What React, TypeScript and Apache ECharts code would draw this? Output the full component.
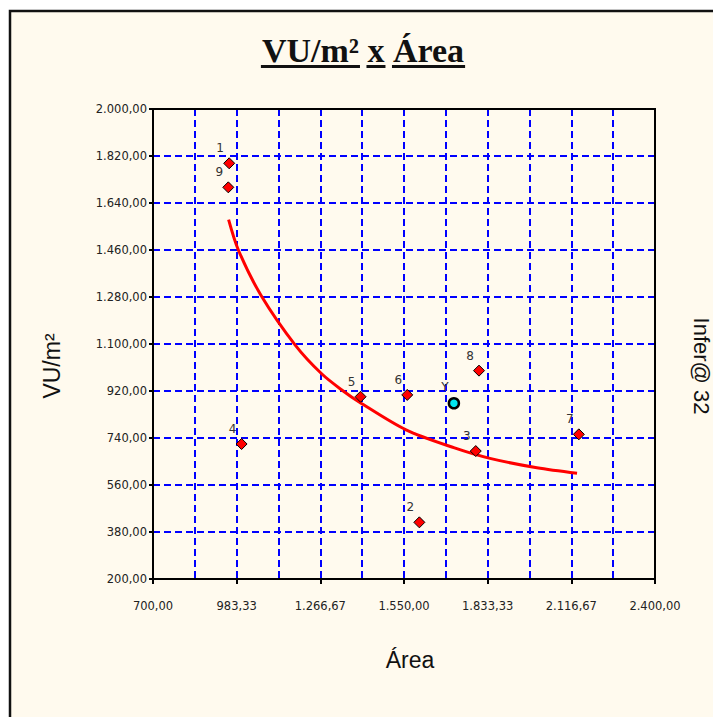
import React, { useEffect, useRef } from 'react';
import * as echarts from 'echarts';

// ---- data ----
const pointLabels = ['1', '2', '3', '4', '5', '6', '7', '8', '9'];
const areaValues = [958, 1602, 1793, 1000, 1403, 1561, 2142, 1804, 955];
const vuValues = [1792, 417, 690, 717, 898, 905, 754, 998, 1700];

const subjectLabel = 'Y';
const subjectArea = 1719;
const subjectVU = 873;

const trendArea = [956, 989, 1066, 1183, 1272, 1344, 1398, 1557, 1721, 1841, 2000, 2136];
const trendVU = [1576, 1460, 1286, 1094, 985, 920, 878, 771, 702, 662, 626, 605];

const xMin = 700;
const xMax = 2400;
const xStep = 283.33334;
const yMin = 200;
const yMax = 2000;
const yStep = 180;

const titleWords = ['VU/m²', 'x', 'Área'];
const yTitle = 'VU/m²';
const xTitle = 'Área';
const rightLabel = 'Infer@ 32';

function fmtBR(v: number): string {
  const fixed = Math.abs(v).toFixed(2);
  const [ip, dp] = fixed.split('.');
  const withDots = ip.replace(/\B(?=(\d{3})+(?!\d))/g, '.');
  return (v < 0 ? '-' : '') + withDots + ',' + dp;
}

const GRID = { left: 153, top: 109, width: 502, height: 470 };

export default function App() {
  const ref = useRef<HTMLDivElement>(null);

  useEffect(() => {
    if (!ref.current) return;
    const chart = echarts.init(ref.current, undefined, { renderer: 'svg' });

    // measure title words for underlines
    const titleFont = 'bold 34px "Liberation Serif"';
    const cv = document.createElement('canvas');
    const ctx = cv.getContext('2d')!;
    ctx.font = titleFont;
    const widths = titleWords.map((w) => ctx.measureText(w).width);
    const spaceW = ctx.measureText(' ').width;
    const total = widths.reduce((a, b) => a + b, 0) + spaceW * (titleWords.length - 1);
    let cx = 363 - total / 2;
    const titleEls: any[] = [];
    titleWords.forEach((w, i) => {
      titleEls.push({
        type: 'text',
        x: cx,
        y: 50,
        z: 20,
        style: {
          text: w,
          font: titleFont,
          fill: '#111',
          textAlign: 'left',
          textVerticalAlign: 'middle',
          align: 'left',
          verticalAlign: 'middle',
        },
      });
      titleEls.push({
        type: 'rect',
        z: 20,
        shape: { x: cx - 1, y: 65, width: widths[i] + 2, height: 3 },
        style: { fill: '#111' },
      });
      cx += widths[i] + spaceW;
    });

    const lineStyleGrid = { color: '#0000FF', width: 2, type: [7, 4] as any };

    chart.setOption({
      animation: false,
      backgroundColor: '#ffffff',
      grid: { ...GRID, containLabel: false },
      graphic: [
        {
          type: 'rect',
          z: -10,
          shape: { x: 10, y: 11, width: 720, height: 720 },
          style: { fill: '#FFFAEE', stroke: '#111', lineWidth: 2.5 },
        },
        {
          type: 'rect',
          z: 10,
          shape: { x: GRID.left, y: GRID.top, width: GRID.width, height: GRID.height },
          style: { fill: 'transparent', stroke: '#000', lineWidth: 2 },
        },
        ...titleEls,
        {
          type: 'text',
          x: 52,
          y: 366,
          rotation: Math.PI / 2,
          style: {
            text: yTitle,
            font: '23px "Liberation Sans"',
            fill: '#111',
            textAlign: 'center',
            textVerticalAlign: 'middle',
            align: 'center',
            verticalAlign: 'middle',
          },
        },
        {
          type: 'text',
          x: 701,
          y: 366,
          rotation: -Math.PI / 2,
          style: {
            text: rightLabel,
            font: '22px "Liberation Sans"',
            fill: '#111',
            textAlign: 'center',
            textVerticalAlign: 'middle',
            align: 'center',
            verticalAlign: 'middle',
          },
        },
        {
          type: 'text',
          x: 410,
          y: 660,
          style: {
            text: xTitle,
            font: '23px "Liberation Sans"',
            fill: '#111',
            textAlign: 'center',
            textVerticalAlign: 'middle',
            align: 'center',
            verticalAlign: 'middle',
          },
        },
      ],
      xAxis: {
        type: 'value',
        min: xMin,
        max: xMax,
        interval: xStep,
        axisLine: { show: true, onZero: false, lineStyle: { color: '#000', width: 2 } },
        axisTick: { show: true, length: 5, lineStyle: { color: '#000', width: 2 } },
        axisLabel: {
          formatter: (v: number) => fmtBR(v),
          fontFamily: 'DejaVu Sans',
          fontSize: 11.5,
          color: '#222',
          margin: 21,
          showMinLabel: true,
          showMaxLabel: true,
        },
        splitLine: { show: true, lineStyle: lineStyleGrid },
        minorTick: { show: false, splitNumber: 2 },
        minorSplitLine: { show: true, lineStyle: lineStyleGrid },
      },
      yAxis: {
        type: 'value',
        min: yMin,
        max: yMax,
        interval: yStep,
        axisLine: { show: true, onZero: false, lineStyle: { color: '#000', width: 2 } },
        axisTick: { show: true, length: 4, lineStyle: { color: '#000', width: 2 } },
        axisLabel: {
          formatter: (v: number) => fmtBR(v),
          fontFamily: 'DejaVu Sans',
          fontSize: 11.5,
          color: '#222',
          margin: 6,
          showMinLabel: true,
          showMaxLabel: true,
        },
        splitLine: { show: true, lineStyle: lineStyleGrid },
      },
      series: [
        {
          type: 'line',
          data: trendArea.map((x, i) => [x, trendVU[i]]),
          smooth: 0.3,
          symbol: 'none',
          lineStyle: { color: '#FF0000', width: 3 },
          z: 2,
        },
        {
          type: 'scatter',
          data: pointLabels.map((n, i) => ({ name: n, value: [areaValues[i], vuValues[i]] })),
          symbol: 'diamond',
          symbolSize: 11,
          itemStyle: { color: '#FF0000', borderColor: '#000', borderWidth: 1, opacity: 1 },
          label: {
            show: true,
            formatter: '{b}',
            position: 'top',
            distance: 3,
            offset: [-9, 0],
            fontSize: 12,
            fontFamily: 'DejaVu Sans',
            color: '#333',
          },
          z: 3,
        },
        {
          type: 'scatter',
          data: [{ name: subjectLabel, value: [subjectArea, subjectVU] }],
          symbol: 'circle',
          symbolSize: 10,
          itemStyle: { color: '#00E5EE', borderColor: '#000', borderWidth: 2.5, opacity: 1 },
          label: {
            show: true,
            formatter: '{b}',
            position: 'top',
            distance: 4,
            offset: [-9, 0],
            fontSize: 12,
            fontFamily: 'DejaVu Sans',
            color: '#333',
          },
          z: 3,
        },
      ],
    });

    return () => {
      chart.dispose();
    };
  }, []);

  return (
    <div
      ref={ref}
      style={{ position: 'fixed', left: 0, top: 0, width: 713, height: 717 }}
    />
  );
}
